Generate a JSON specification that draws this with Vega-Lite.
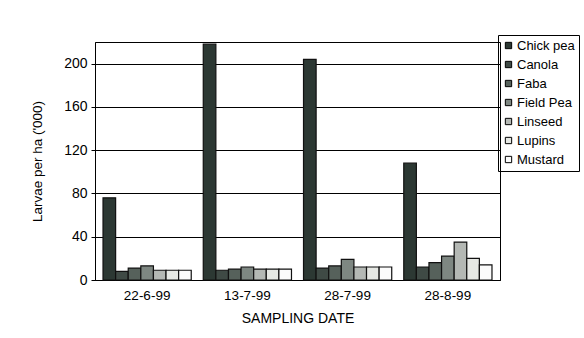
{
  "$schema": "https://vega.github.io/schema/vega-lite/v6.json",
  "width": 405,
  "height": 238,
  "autosize": {"type": "none"},
  "padding": {"left": 95, "top": 42, "right": 84, "bottom": 58},
  "background": "#ffffff",
  "config": {
    "font": "Liberation Sans",
    "view": {"stroke": "#000000", "strokeWidth": 1}
  },
  "data": {
    "values": [
      {"date": "22-6-99", "crop": "Chick pea", "larvae": 76},
      {"date": "22-6-99", "crop": "Canola", "larvae": 8},
      {"date": "22-6-99", "crop": "Faba", "larvae": 11},
      {"date": "22-6-99", "crop": "Field Pea", "larvae": 13},
      {"date": "22-6-99", "crop": "Linseed", "larvae": 9},
      {"date": "22-6-99", "crop": "Lupins", "larvae": 9},
      {"date": "22-6-99", "crop": "Mustard", "larvae": 9},
      {"date": "13-7-99", "crop": "Chick pea", "larvae": 218},
      {"date": "13-7-99", "crop": "Canola", "larvae": 9},
      {"date": "13-7-99", "crop": "Faba", "larvae": 10},
      {"date": "13-7-99", "crop": "Field Pea", "larvae": 12},
      {"date": "13-7-99", "crop": "Linseed", "larvae": 10},
      {"date": "13-7-99", "crop": "Lupins", "larvae": 10},
      {"date": "13-7-99", "crop": "Mustard", "larvae": 10},
      {"date": "28-7-99", "crop": "Chick pea", "larvae": 204},
      {"date": "28-7-99", "crop": "Canola", "larvae": 11},
      {"date": "28-7-99", "crop": "Faba", "larvae": 13},
      {"date": "28-7-99", "crop": "Field Pea", "larvae": 19},
      {"date": "28-7-99", "crop": "Linseed", "larvae": 12},
      {"date": "28-7-99", "crop": "Lupins", "larvae": 12},
      {"date": "28-7-99", "crop": "Mustard", "larvae": 12},
      {"date": "28-8-99", "crop": "Chick pea", "larvae": 108},
      {"date": "28-8-99", "crop": "Canola", "larvae": 12},
      {"date": "28-8-99", "crop": "Faba", "larvae": 16},
      {"date": "28-8-99", "crop": "Field Pea", "larvae": 22},
      {"date": "28-8-99", "crop": "Linseed", "larvae": 35},
      {"date": "28-8-99", "crop": "Lupins", "larvae": 20},
      {"date": "28-8-99", "crop": "Mustard", "larvae": 14}
    ]
  },
  "mark": {"type": "bar", "stroke": "#111111", "strokeWidth": 1.2},
  "encoding": {
    "x": {
      "field": "date",
      "type": "nominal",
      "sort": ["22-6-99", "13-7-99", "28-7-99", "28-8-99"],
      "scale": {"paddingInner": 0.12, "paddingOuter": 0.08},
      "axis": {
        "title": "SAMPLING DATE",
        "titleFont": "Liberation Sans",
        "titleFontSize": 14,
        "titleFontWeight": "normal",
        "titleColor": "#000000",
        "titlePadding": 10,
        "labelAngle": 0,
        "labelFontSize": 13.5,
        "labelColor": "#000000",
        "labelPadding": 8,
        "ticks": false,
        "domainColor": "#000000"
      }
    },
    "xOffset": {
      "field": "crop",
      "type": "nominal",
      "sort": ["Chick pea", "Canola", "Faba", "Field Pea", "Linseed", "Lupins", "Mustard"],
      "scale": {"paddingInner": 0, "paddingOuter": 0}
    },
    "y": {
      "field": "larvae",
      "type": "quantitative",
      "scale": {"domain": [0, 220], "nice": false},
      "axis": {
        "title": "Larvae per ha ('000)",
        "titleFont": "Liberation Sans",
        "titleFontSize": 13.5,
        "titleFontWeight": "normal",
        "titleColor": "#000000",
        "titlePadding": 19,
        "values": [0, 40, 80, 120, 160, 200],
        "labelFontSize": 14,
        "labelColor": "#000000",
        "labelPadding": 4,
        "tickColor": "#000000",
        "tickSize": 4,
        "domainColor": "#000000",
        "grid": true,
        "gridColor": "#000000",
        "gridWidth": 1
      }
    },
    "fill": {
      "field": "crop",
      "type": "nominal",
      "sort": ["Chick pea", "Canola", "Faba", "Field Pea", "Linseed", "Lupins", "Mustard"],
      "scale": {
        "domain": ["Chick pea", "Canola", "Faba", "Field Pea", "Linseed", "Lupins", "Mustard"],
        "range": ["#2c3833", "#3f4a45", "#56615b", "#7e8782", "#b4b8b4", "#e6e8e4", "#fbfbfb"]
      },
      "legend": {
        "title": null,
        "orient": "none",
        "legendX": 403,
        "legendY": -7,
        "strokeColor": "#000000",
        "padding": 4,
        "symbolType": "square",
        "symbolSize": 40,
        "symbolStrokeColor": "#000000",
        "symbolStrokeWidth": 1,
        "labelFontSize": 13,
        "labelColor": "#000000",
        "labelOffset": 2,
        "rowPadding": 5,
        "labelLimit": 200
      }
    }
  }
}
